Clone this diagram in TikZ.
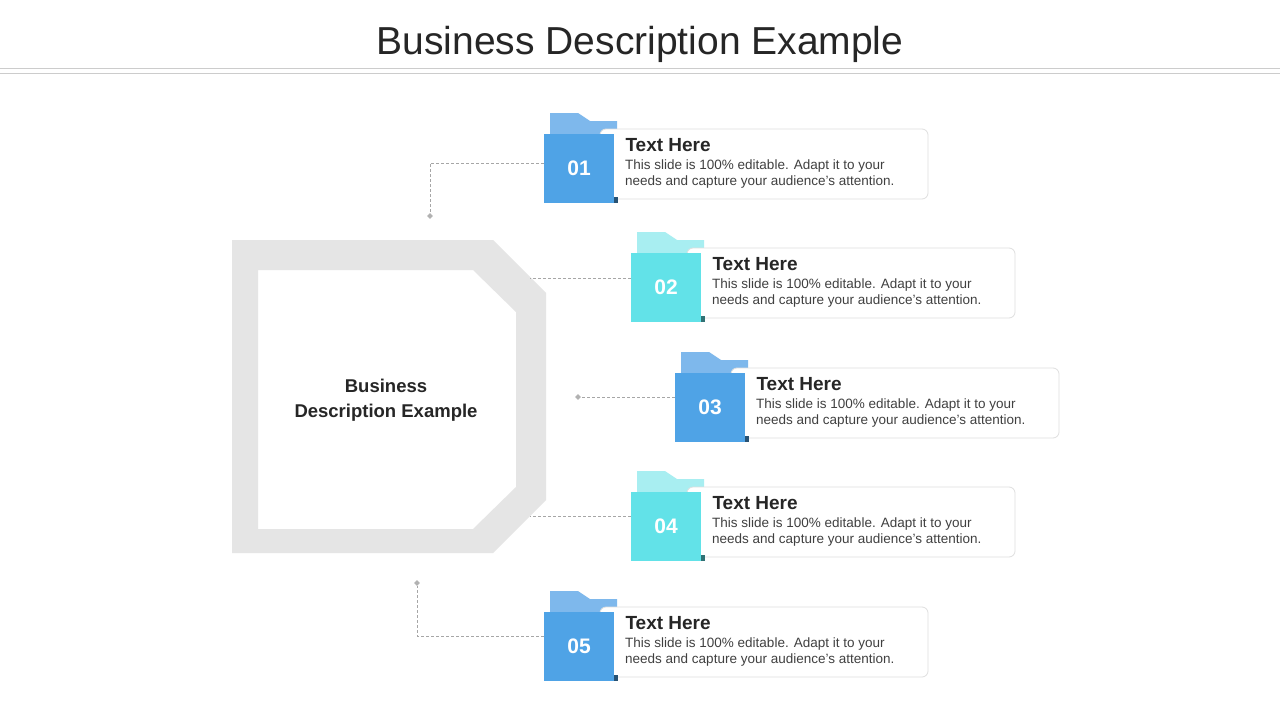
\documentclass[tikz,border=0pt]{standalone}
\usepackage{fontspec}
\setmainfont{Liberation Sans}
\usetikzlibrary{shapes.geometric}
\begin{document}
\begin{tikzpicture}[x=1pt,y=-1pt,
  conn/.style={draw=gray!70,densely dashed,line width=0.6pt},
  dia/.style={fill=gray!60,draw=none,diamond,inner sep=0pt,minimum size=6pt},
  card/.style={draw=gray!25,fill=white,rounded corners=6pt,line width=0.8pt},
  num/.style={text=white,font=\bfseries\fontsize{21}{21}\selectfont},
  ttl/.style={anchor=west,text=black!85,font=\bfseries\fontsize{19}{19}\selectfont},
  bdy/.style={anchor=north west,text=black!75,align=left,font=\fontsize{13.5}{16}\selectfont,inner sep=0pt}]
\useasboundingbox (0,0) rectangle (1280,720);
\fill[white] (0,0) rectangle (1280,720);
\node[text=black!85,font=\fontsize{39}{39}\selectfont] (title) at (640,44) {Business Description Example};
\draw[gray!40,line width=0.8pt] (0,68)--(1280,68) (0,73)--(1280,73);
% octagon
\fill[gray!20!white,even odd rule] (232,240)--(493,240)--(546,293)--(546,500)--(493,553)--(232,553)--cycle
  (258,270)--(473,270)--(516,312)--(516,487)--(473,529)--(258,529)--cycle;
\node[align=center,text=black!85,font=\bfseries\fontsize{18.5}{25}\selectfont] (center) at (386,400) {Business\\Description Example};
\newcommand{\itemblk}[6]{% #1 dx, #2 dy, #3 main, #4 tab, #5 num, #6 card right
\begin{scope}[shift={(#1,#2)}]
\fill[#4] (550,113)--(578,113)--(590,121)--(617,121)--(617,134)--(550,134)--cycle;
\draw[card] (600,129) rectangle (#6,199);
\fill[#3!50!black] (612,197) rectangle (618,203);
\node[fill=#3,minimum width=70pt,minimum height=69pt,inner sep=0pt,num] (n#5) at (579,168.5) {#5};
\node[ttl] (t#5) at (622,145) {Text Here};
\node[bdy] (b#5) at (625,160) {This slide is 100\% editable. Adapt it to your\\needs and capture your audience's attention.};
\end{scope}}
\definecolor{bl}{HTML}{4FA3E6}\definecolor{blt}{HTML}{7EB8EC}
\definecolor{cy}{HTML}{62E2E8}\definecolor{cyt}{HTML}{A8EEF1}
\itemblk{0}{0}{bl}{blt}{01}{928}
\itemblk{87}{119}{cy}{cyt}{02}{928}
\itemblk{131}{239}{bl}{blt}{03}{928}
\itemblk{87}{358}{cy}{cyt}{04}{928}
\itemblk{0}{478}{bl}{blt}{05}{928}
% connectors
\node[dia] (d1) at (430,216) {};
\node[dia] (d3) at (578,397) {};
\node[dia] (d5) at (417,583) {};
\coordinate (c2) at (530,278);
\coordinate (c4) at (530,516);
\draw[conn] (n01.west |- 0,163) -| (d1);
\draw[conn] (n02.west |- c2) -- (c2);
\draw[conn] (n03.west |- d3) -- (d3);
\draw[conn] (n04.west |- c4) -- (c4);
\draw[conn] (n05.west |- 0,636) -| (d5);
\end{tikzpicture}
\end{document}
